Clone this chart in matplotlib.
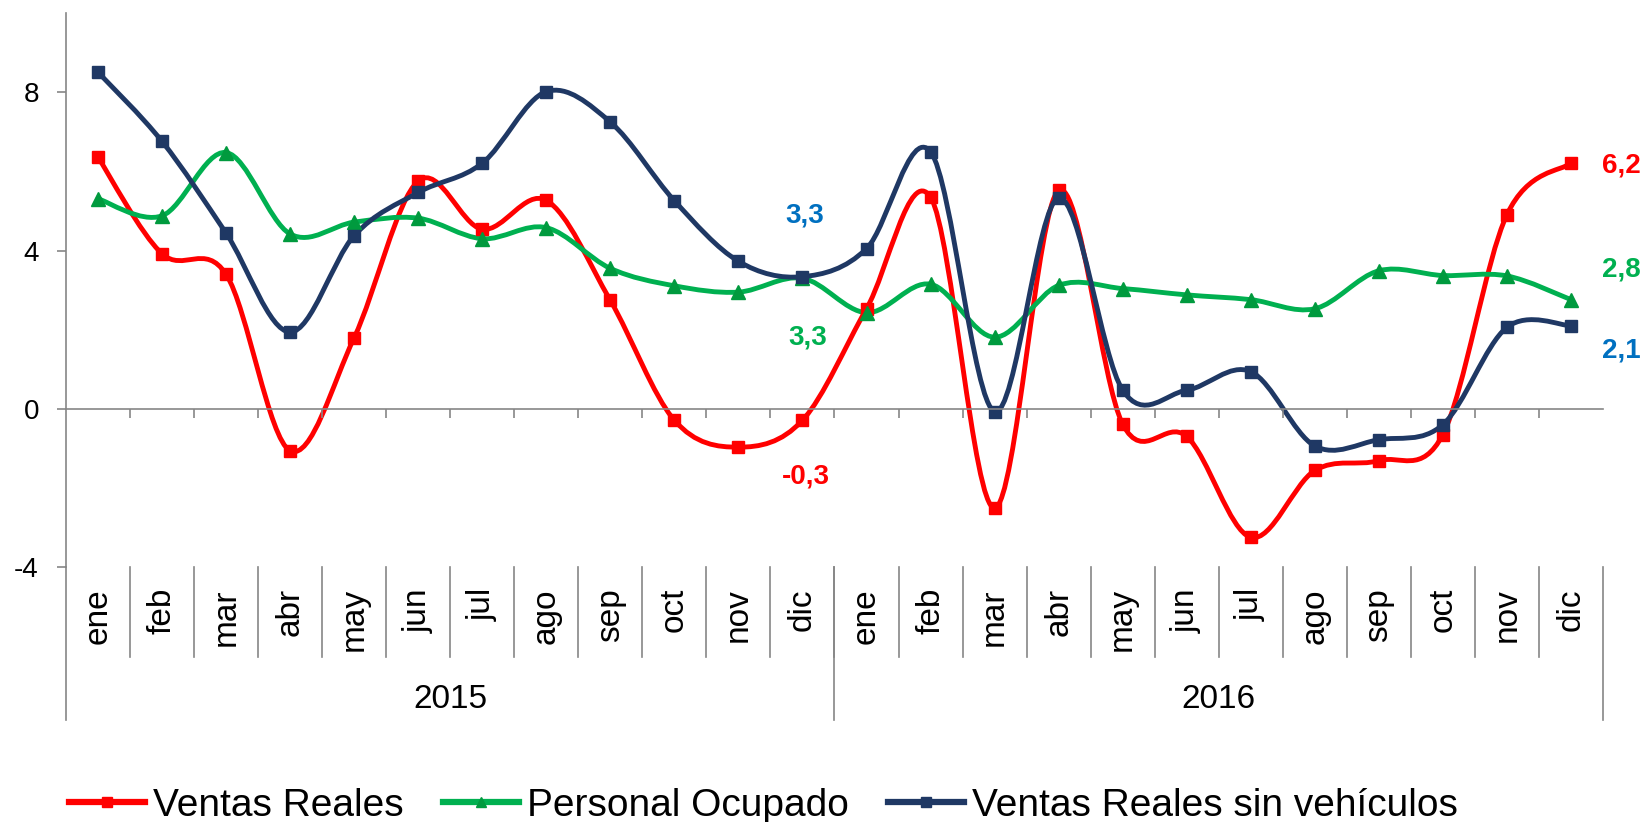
import numpy as np
import matplotlib
matplotlib.use("Agg")
import matplotlib.pyplot as plt
from matplotlib.path import Path
from matplotlib.patches import PathPatch
from matplotlib.lines import Line2D
from matplotlib.transforms import blended_transform_factory

plt.rcParams["font.family"] = ["Liberation Sans", "DejaVu Sans"]

months = ["ene", "feb", "mar", "abr", "may", "jun", "jul", "ago", "sep", "oct", "nov", "dic"]
years = ["2015", "2016"]
labels = months * 2

ventas = [6.36, 3.92, 3.40, -1.06, 1.80, 5.76, 4.54, 5.27, 2.74, -0.29, -0.97, -0.29,
          2.53, 5.35, -2.51, 5.52, -0.39, -0.70, -3.25, -1.56, -1.31, -0.65, 4.91, 6.21]
personal = [5.31, 4.88, 6.48, 4.42, 4.72, 4.82, 4.30, 4.58, 3.55, 3.11, 2.95, 3.30,
            2.43, 3.15, 1.81, 3.12, 3.04, 2.88, 2.76, 2.53, 3.49, 3.37, 3.36, 2.76]
sin_veh = [8.51, 6.76, 4.44, 1.94, 4.38, 5.47, 6.21, 8.02, 7.25, 5.26, 3.73, 3.34,
           4.05, 6.50, -0.07, 5.33, 0.47, 0.47, 0.94, -0.94, -0.78, -0.40, 2.06, 2.10]

RED, GREEN, GREEN_MK, NAVY, BLUE = "#FF0000", "#00B050", "#009A3E", "#1F3864", "#0070C0"
GRAY = "#868686"
W, H = 1641, 822


def smooth_path(ys):
    # Excel-style smoothed line: cubic bezier through every point (catmull-rom tangents)
    pts = np.column_stack([np.arange(len(ys)), ys]).astype(float)
    n = len(pts)
    verts, codes = [pts[0]], [Path.MOVETO]
    for i in range(n - 1):
        p0, p1, p2, p3 = pts[max(i - 1, 0)], pts[i], pts[i + 1], pts[min(i + 2, n - 1)]
        verts += [p1 + (p2 - p0) / 6, p2 - (p3 - p1) / 6, p2]
        codes += [Path.CURVE4] * 3
    return Path(verts, codes)


fig = plt.figure(figsize=(W / 100, H / 100), dpi=100)
ax = fig.add_axes([66 / W, 1 - 567 / H, (1603 - 66) / W, (567 - 13.3) / H])

series = [(ventas, RED, RED, "s", "Ventas Reales"),
          (personal, GREEN, GREEN_MK, "^", "Personal Ocupado"),
          (sin_veh, NAVY, NAVY, "s", "Ventas Reales sin vehículos")]
x = np.arange(len(labels))
handles = []
for ys, col, mcol, mk, name in series:
    ax.add_patch(PathPatch(smooth_path(ys), fill=False, edgecolor=col, lw=3.5,
                           capstyle="round", joinstyle="round"))
    ax.plot(x, ys, ls="none", marker=mk, ms=9 if mk == "s" else 10, color=mcol, mec=mcol)
    handles.append(Line2D([], [], color=col, lw=4.5, marker=mk, ms=7, mfc=mcol, mec=mcol))

ax.set_xlim(-0.5, len(labels) - 0.5)
ax.set_ylim(-4, 10)
ax.set_yticks([-4, 0, 4, 8])
ax.set_yticklabels(["-4", "0", "4", "8"])
ax.set_xticks(np.arange(0.5, len(labels) - 0.5, 1.0))
ax.set_xticklabels([])
for s in ["top", "right"]:
    ax.spines[s].set_visible(False)
ax.spines["bottom"].set_position(("data", 0))
for s in ["bottom", "left"]:
    ax.spines[s].set_color(GRAY)
    ax.spines[s].set_linewidth(1.2)
ax.tick_params(axis="x", direction="out", length=6.5, width=1.2, color=GRAY)
ax.tick_params(axis="y", direction="out", length=6.5, width=1.2, color=GRAY,
               labelsize=20, pad=13)

# data labels
lbl = dict(fontsize=20, fontweight="bold", textcoords="offset pixels", ha="center", va="center")
ax.annotate("3,3", (11, sin_veh[11]), xytext=(2, 61), color=BLUE, **lbl)
ax.annotate("3,3", (11, personal[11]), xytext=(5, -59), color=GREEN, **lbl)
ax.annotate("-0,3", (11, ventas[11]), xytext=(3, -56), color=RED, **lbl)
ax.annotate("6,2", (23, ventas[23]), xytext=(50, -2), color=RED, **lbl)
ax.annotate("2,8", (23, personal[23]), xytext=(50, 30), color=GREEN, **lbl)
ax.annotate("2,1", (23, sin_veh[23]), xytext=(50, -25), color=BLUE, **lbl)

# category axis below the plot
tr = blended_transform_factory(ax.transData, fig.transFigure)
fy = lambda px: 1 - px / H  # noqa: E731
for i, m in enumerate(labels):
    ax.text(i, fy(588), m, rotation=90, ha="center", va="top", fontsize=24, transform=tr)
for b in np.arange(0.5, len(labels) - 0.5, 1.0):
    ax.add_line(Line2D([b, b], [fy(567), fy(657)], transform=tr, color=GRAY, lw=1.2, clip_on=False))
for b in [-0.5, 11.5, 23.5]:
    ax.add_line(Line2D([b, b], [fy(567), fy(720)], transform=tr, color=GRAY, lw=1.2, clip_on=False))
for k, yr in enumerate(years):
    ax.text(k * 12 + 5.5, fy(699), yr, ha="center", va="center", fontsize=24, transform=tr)

fig.legend(handles, [s[4] for s in series], loc="center left", bbox_to_anchor=(69 / W, fy(806)),
           ncol=3, frameon=False, fontsize=28, handlelength=1.95, handletextpad=0.22,
           columnspacing=1.0, borderpad=0, borderaxespad=0)

fig.savefig("out.png", dpi=100)
